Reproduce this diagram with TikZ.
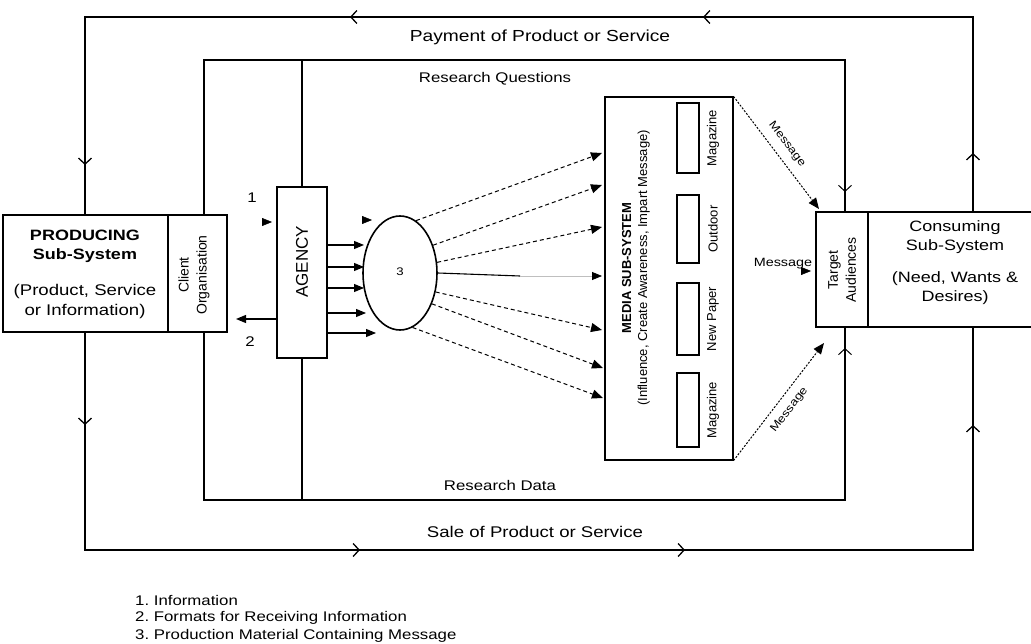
\documentclass[tikz,border=0pt]{standalone}
\usepackage{fontspec}
\setmainfont{Liberation Sans}[FakeStretch=1.2]
\newfontfamily\rotfont{Liberation Sans}
\usetikzlibrary{arrows.meta,shapes.geometric}
\begin{document}
\begin{tikzpicture}[x=1pt,y=-1pt,
  every node/.style={font=\fontsize{14}{17}\selectfont, inner sep=0pt, align=center},
  box/.style={draw, line width=1.1pt, fill=white},
  loopline/.style={line width=1.6pt},
  thinline/.style={line width=1.1pt},
  chev/.style={line width=1.3pt, -{Straight Barb[length=6pt,width=13pt]}},
  tri/.style={-{Triangle[length=10pt,width=8pt]}},
  dsh/.style={line width=1pt, dash pattern=on 4pt off 3pt, -{Triangle[length=11pt,width=9pt]}},
  rot/.style={rotate=90, font=\rotfont\fontsize{13}{16}\selectfont}
]
\useasboundingbox (0,0) rectangle (1031,644);
\clip (0,0) rectangle (1031,644);

% ---------- boxes ----------
\node[box, minimum width=165pt, minimum height=117pt] (prod) at (85.5,273.5) {};
\node[font=\fontsize{15}{19}\selectfont] at (85,246) {\bfseries PRODUCING\\\bfseries Sub-System};
\node[font=\fontsize{15.5}{20}\selectfont] at (85,301) {(Product, Service\\or Information)};
\node[box, minimum width=59pt, minimum height=117pt] (client) at (197.5,273.5) {};
\node[rot, font=\rotfont\fontsize{14}{18}\selectfont] at (194,275) {Client\\Organisation};

\node[box, minimum width=50pt, minimum height=171pt] (agency) at (302,272.5) {};
\node[rot, font=\rotfont\fontsize{17}{20}\selectfont] at (302,262) {AGENCY};

\node[draw, ellipse, line width=1.6pt, minimum width=74pt, minimum height=114pt] (ell) at (400,273) {};
\node[font=\fontsize{11}{13}\selectfont] at (400,272) {3};

\node[box, minimum width=128pt, minimum height=363pt] (media) at (669,278.5) {};
\node[rot] at (636,268) {\bfseries MEDIA SUB-SYSTEM\\(Influence, Create Awareness, Impart Message)};
\node[box, minimum width=22pt, minimum height=70pt] (m1) at (688,138) {};
\node[box, minimum width=22pt, minimum height=68pt] (m2) at (688,229) {};
\node[box, minimum width=22pt, minimum height=72pt] (m3) at (688,319) {};
\node[box, minimum width=22pt, minimum height=74pt] (m4) at (688,410) {};
\node[rot] at (713,138) {Magazine};
\node[rot] at (713,229) {Outdoor};
\node[rot] at (713,319) {New Paper};
\node[rot] at (713,410) {Magazine};

\node[box, minimum width=52pt, minimum height=115pt] (target) at (842,269.5) {};
\node[rot, font=\rotfont\fontsize{14}{18}\selectfont] at (842,270) {Target\\Audiences};
\node[box, minimum width=180pt, minimum height=115pt, anchor=west] (cons) at (868,269.5) {};
\node[font=\fontsize{15}{19}\selectfont] at (955,237) {Consuming\\Sub-System};
\node[font=\fontsize{15}{19}\selectfont] at (955,288) {(Need, Wants \&\\Desires)};

% ---------- outer loop ----------
\coordinate (otl) at (85,17);
\coordinate (otr) at (973,17);
\coordinate (obl) at (85,550);
\coordinate (obr) at (973,550);
\draw[loopline] (prod.north -| otl) -- (otl) -- (otr) -- (cons.north -| otr);
\draw[loopline] (prod.south -| obl) -- (obl) -- (obr) -- (cons.south -| obr);
\coordinate (a1) at (703,17);  \coordinate (a2) at (350,17);
\coordinate (a3) at (360,550); \coordinate (a4) at (685,550);
\coordinate (a5) at (85,165);  \coordinate (a6) at (85,425);
\coordinate (a7) at (973,153); \coordinate (a8) at (973,425);
\draw[chev] ([xshift=2pt]a1) -- (a1);
\draw[chev] ([xshift=2pt]a2) -- (a2);
\draw[chev] ([xshift=-2pt]a3) -- (a3);
\draw[chev] ([xshift=-2pt]a4) -- (a4);
\draw[chev] ([yshift=2pt]a5) -- (a5);
\draw[chev] ([yshift=2pt]a6) -- (a6);
\draw[chev] ([yshift=-2pt]a7) -- (a7);
\draw[chev] ([yshift=-2pt]a8) -- (a8);
\node[font=\fontsize{16}{19}\selectfont] (pay) at (540,37) {Payment of Product or Service};
\node[font=\fontsize{15.5}{19}\selectfont] (sale) at (535,532) {Sale of Product or Service};

% ---------- inner loop ----------
\coordinate (itl) at (204,60);
\coordinate (itr) at (845,60);
\coordinate (ibl) at (204,500);
\coordinate (ibr) at (845,500);
\draw[thinline] (prod.north -| itl) -- (itl) -- (itr) -- (target.north -| itr);
\draw[thinline] (prod.south -| ibl) -- (ibl) -- (ibr) -- (target.south -| ibr);
\draw[thinline] (agency.north) -- (agency.north |- itl);
\draw[thinline] (agency.south) -- (agency.south |- ibl);
\coordinate (a9) at (845,192);
\coordinate (a10) at (845,348);
\draw[chev, line width=1pt] ([yshift=2pt]a9) -- (a9);
\draw[chev, line width=1pt] ([yshift=-2pt]a10) -- (a10);
\node (rq) at (495,79) {Research Questions};
\node (rd) at (500,485) {Research Data};

% ---------- agency links ----------
\node (n1) at (252,198) {1};
\coordinate (i1) at (272,222);
\draw[tri] ([xshift=-2pt]i1) -- (i1);
\coordinate (i2) at (372,220);
\draw[tri] ([xshift=-2pt]i2) -- (i2);
\coordinate (o2) at (236,319);
\draw[thinline, tri] (agency.west |- o2) -- (o2);
\node (n2) at (250,342) {2};

\foreach \yy/\xx in {245/364, 267/364, 288/364, 313/366, 333/376} {
  \coordinate (e) at (\xx,\yy);
  \draw[thinline, tri] (agency.east |- e) -- (e);
}

% ---------- ellipse to media ----------
\coordinate (t1) at (602,153);
\coordinate (t2) at (602,185);
\coordinate (t3) at (602,227);
\coordinate (t4) at (602,276);
\coordinate (t5) at (602,330);
\coordinate (t6) at (603,368);
\coordinate (t7) at (603,398);
\draw[dsh] (ell.73) -- (t1);
\draw[dsh] (ell.40) -- (t2);
\draw[dsh] (ell.16) -- (t3);
\coordinate (h4) at (520,276);
\draw[thinline] (ell.east) -- (h4);
\draw[line width=0.8pt, black!25, -{Triangle[length=10pt,width=8pt,black]}] (h4) -- (t4);
\draw[dsh] (ell.-28) -- (t5);
\draw[dsh] (ell.-44) -- (t6);
\draw[dsh] (ell.-77) -- (t7);

% ---------- media to target ----------
\coordinate (tg1) at (819,209);
\coordinate (tg2) at (824,343);
\draw[dsh, dash pattern=on 2pt off 1.5pt] (media.north east) -- node[sloped, above=8pt, font=\fontsize{11}{13}\selectfont] {Message} (tg1);
\draw[dsh, dash pattern=on 2pt off 1.5pt] (media.south east) -- node[sloped, below=8pt, font=\fontsize{11}{13}\selectfont] {Message} (tg2);
\node[font=\fontsize{12}{14}\selectfont] (msg) at (783,264) {Message};
\coordinate (tg3) at (811,271);
\draw[tri] ([xshift=-2pt]tg3) -- (tg3);

% ---------- legend ----------
\node[anchor=west] (l1) at (135,600) {1.\ Information};
\node[anchor=west] (l2) at (135,618) {2.\ Formats for Receiving Information};
\node[anchor=west] (l3) at (135,636) {3.\ Production Material Containing Message};
\end{tikzpicture}
\end{document}
